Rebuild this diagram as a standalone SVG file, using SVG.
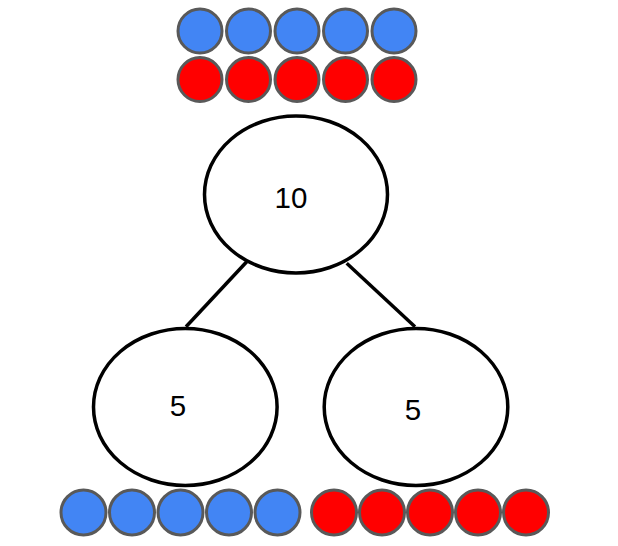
<svg xmlns="http://www.w3.org/2000/svg" width="618" height="546" viewBox="0 0 618 546">
<style>
.b{fill:#4285f4;stroke:#595959;stroke-width:3}
.r{fill:#ff0000;stroke:#595959;stroke-width:3}
.node{fill:#ffffff;stroke:#000000;stroke-width:3.5}
.lbl{font-family:"Liberation Sans",Arial,sans-serif;font-size:29.5px;fill:#000000;text-anchor:middle}
.edge{stroke:#000000;stroke-width:3.5;fill:none}
</style>
<rect width="618" height="546" fill="#ffffff"/>
<g id="top-counters">
<circle class="b" cx="200" cy="31" r="22"/>
<circle class="b" cx="248.5" cy="31" r="22"/>
<circle class="b" cx="297" cy="31" r="22"/>
<circle class="b" cx="345.5" cy="31" r="22"/>
<circle class="b" cx="394" cy="31" r="22"/>
<circle class="r" cx="200" cy="79.5" r="22"/>
<circle class="r" cx="248.5" cy="79.5" r="22"/>
<circle class="r" cx="297" cy="79.5" r="22"/>
<circle class="r" cx="345.5" cy="79.5" r="22"/>
<circle class="r" cx="394" cy="79.5" r="22"/>
</g>
<g id="connectors">
<line class="edge" x1="246.7" y1="261.7" x2="186" y2="326.7"/>
<line class="edge" x1="346.7" y1="263.3" x2="415" y2="326.7"/>
</g>
<g id="node-10">
<ellipse class="node" cx="296" cy="194.5" rx="91.5" ry="78.5"/>
<text class="lbl" x="291" y="207.5">10</text>
</g>
<g id="node-5-left">
<ellipse class="node" cx="185.3" cy="407" rx="91.8" ry="78.5"/>
<text class="lbl" x="178" y="415.5">5</text>
</g>
<g id="node-5-right">
<ellipse class="node" cx="416" cy="407" rx="91.8" ry="78.5"/>
<text class="lbl" x="413" y="419.5">5</text>
</g>
<g id="bottom-counters">
<circle class="b" cx="83.5" cy="512.5" r="22.5"/>
<circle class="b" cx="132" cy="512.5" r="22.5"/>
<circle class="b" cx="180.5" cy="512.5" r="22.5"/>
<circle class="b" cx="229" cy="512.5" r="22.5"/>
<circle class="b" cx="277.5" cy="512.5" r="22.5"/>
<circle class="r" cx="334" cy="512.5" r="22.5"/>
<circle class="r" cx="382" cy="512.5" r="22.5"/>
<circle class="r" cx="430" cy="512.5" r="22.5"/>
<circle class="r" cx="478" cy="512.5" r="22.5"/>
<circle class="r" cx="526" cy="512.5" r="22.5"/>
</g>
</svg>
